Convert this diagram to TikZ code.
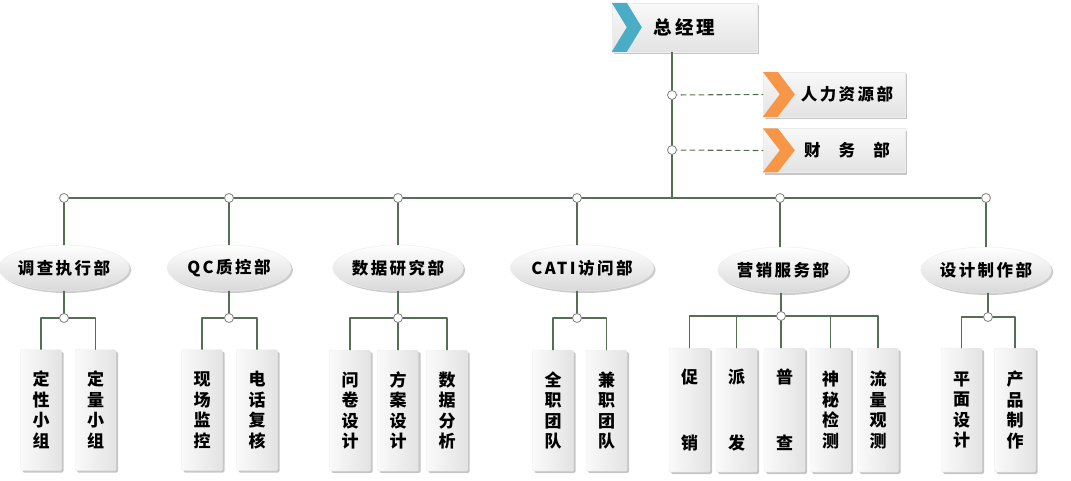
\documentclass[tikz,border=0pt]{standalone}
\usepackage{fontspec}
\setmainfont{Noto Sans CJK SC}
\newfontfamily\widecjk{Noto Sans CJK SC}[LetterSpace=15]
\usetikzlibrary{shapes.geometric,shadows}
\definecolor{linegreen}{RGB}{84,112,84}
\definecolor{chevblue}{RGB}{75,172,198}
\definecolor{chevorange}{RGB}{247,150,70}
\begin{document}
\begin{tikzpicture}[x=1pt, y=-1pt, line join=round, line cap=round,
  font=\bfseries\fontsize{17}{20.5}\selectfont,
  conn/.style={linegreen, line width=1.1pt},
  dot/.style={circle, draw=gray, fill=white, line width=0.8pt, inner sep=0pt, minimum size=9pt},
  flagbox/.style={rectangle, draw=gray!15, top color=white!95!gray, bottom color=gray!22, inner sep=0pt,
    drop shadow={shadow xshift=2pt, shadow yshift=-2pt, opacity=0.45},
    font=\widecjk\bfseries\fontsize{16.5}{20}\selectfont},
  dept/.style={ellipse, draw=gray!15, top color=white, bottom color=gray!30, inner sep=0pt,
    minimum width=124pt, minimum height=46pt,
    drop shadow={shadow xshift=2pt, shadow yshift=-2pt, opacity=0.4},
    font=\widecjk\bfseries\fontsize{16.5}{20}\selectfont},
  team/.style={rectangle, rounded corners=1.5pt, draw=gray!15, left color=white!96!gray, right color=gray!22,
    minimum width=41pt, minimum height=121pt, inner sep=0pt, align=center,
    drop shadow={shadow xshift=2pt, shadow yshift=-2pt, opacity=0.45}}]
\useasboundingbox (0,0) rectangle (1071,480);
\path (672,95) coordinate (h1)
(672,150) coordinate (h2)
(672,198) coordinate (c0)
(64,198) coordinate (d1)
(229,198) coordinate (d2)
(398,198) coordinate (d3)
(577,198) coordinate (d4)
(780,198) coordinate (d5)
(986,198) coordinate (d6)
(64,318) coordinate (s1)
(229,318) coordinate (s2)
(398,318) coordinate (s3)
(577,318) coordinate (s4)
(781,316) coordinate (s5)
(988,317) coordinate (s6);
% top boxes
\node[flagbox, minimum width=145pt, minimum height=49pt] (zjl) at (684.5,27.5) {\fontsize{18.5}{20}\selectfont 总经理};
\node[flagbox, minimum width=142pt, minimum height=45pt] (hr) at (834,94.5) {\hspace*{26pt}人力资源部};
\node[flagbox, minimum width=142pt, minimum height=44pt] (cw) at (834,150.5) {\hspace*{26pt}财\hspace{1.1em}务\hspace{1.1em}部};
\fill[chevblue] (zjl.north west) -- ++(15,0) -- ++(15,24.5) -- ++(-15,24.5) -- ++(-15,0) -- ++(15,-24.5) -- cycle;
\fill[chevorange] (hr.north west) -- ++(15,0) -- ++(17,22.5) -- ++(-17,22.5) -- ++(-15,0) -- ++(17,-22.5) -- cycle;
\fill[chevorange] (cw.north west) -- ++(15,0) -- ++(17,22) -- ++(-17,22) -- ++(-15,0) -- ++(17,-22) -- cycle;
% departments
\node[dept] (e1) at (64,268) {调查执行部};
\node[dept] (e2) at (229,268) {QC质控部};
\node[dept] (e3) at (398,268) {数据研究部};
\node[dept] (e4) at (582,268) {CATI访问部};
\node[dept] (e5) at (783,270) {营销服务部};
\node[dept] (e6) at (986,270) {设计制作部};
% teams
\node[team] (t11) at (41,410) {定\\性\\小\\组};
\node[team] (t12) at (95.5,410) {定\\量\\小\\组};
\node[team] (t21) at (202,410) {现\\场\\监\\控};
\node[team] (t22) at (257,410) {电\\话\\复\\核};
\node[team] (t31) at (350,410.5) {问\\卷\\设\\计};
\node[team] (t32) at (398,410.5) {方\\案\\设\\计};
\node[team] (t33) at (447,410.5) {数\\据\\分\\析};
\node[team] (t41) at (553,410.5) {全\\职\\团\\队};
\node[team] (t42) at (606.5,410.5) {兼\\职\\团\\队};
\node[team, minimum height=124pt] (t51) at (689.5,410) {促\\[45pt]销};
\node[team, minimum height=124pt] (t52) at (736.5,410) {派\\[45pt]发};
\node[team, minimum height=124pt] (t53) at (784.5,410) {普\\[45pt]查};
\node[team, minimum height=124pt] (t54) at (830.5,410) {神\\秘\\检\\测};
\node[team, minimum height=124pt] (t55) at (878,410) {流\\量\\观\\测};
\node[team, minimum height=124pt] (t61) at (961.5,410) {平\\面\\设\\计};
\node[team, minimum height=124pt] (t62) at (1015,410) {产\\品\\制\\作};
% connectors
\draw[conn] (zjl.south -| c0) -- (c0);
\draw[conn, dash pattern=on 5pt off 4pt] (h1) -- (hr.west);
\draw[conn, dash pattern=on 5pt off 4pt] (h2) -- (cw.west);
\draw[conn] (d1) -- (d6);
\draw[conn] (d1) -- (e1) (d2) -- (e2) (d3) -- (e3) (d4) -- (d4 |- e4.north) (d5) -- (d5 |- e5.north) (d6) -- (e6);
\draw[conn] (e1) -- (s1) (e2) -- (s2) (e3) -- (s3) (e4.south -| s4) -- (s4) (e5.south -| s5) -- (s5) (e6.south -| s6) -- (s6);
\draw[conn] (s1) -| (t11.north) (s1) -| (t12.north);
\draw[conn] (s2) -| (t21.north) (s2) -| (t22.north);
\draw[conn] (s3) -| (t31.north) (s3) -- (s3 |- t32.north) (s3) -| (t33.north);
\draw[conn] (s4) -| (t41.north) (s4) -| (t42.north);
\draw[conn] (s5) -| (t51.north) (s5) -| (t52.north) (s5) -- (s5 |- t53.north) (s5) -| (t54.north) (s5) -| (t55.north);
\draw[conn] (s6) -| (t61.north) (s6) -| (t62.north);
% junction dots
\foreach \c in {h1,h2,d1,d2,d3,d4,d5,d6,s1,s2,s3,s4,s5,s6}
  \node[dot] at (\c) {};
\end{tikzpicture}
\end{document}
